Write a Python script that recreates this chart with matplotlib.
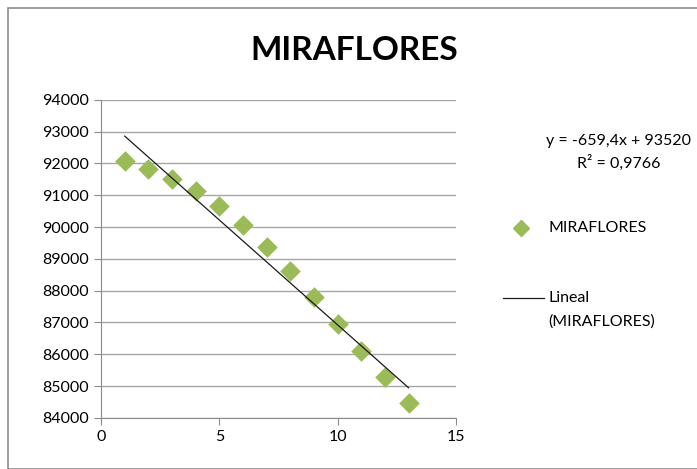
import numpy as np
import matplotlib.pyplot as plt
from matplotlib.patches import Rectangle
from matplotlib.lines import Line2D

# ==============================================================================
# Data
# ==============================================================================
x_vals = [1, 2, 3, 4, 5, 6, 7, 8, 9, 10, 11, 12, 13]
y_vals = [92080, 91830, 91510, 91150, 90660, 90070, 89380,
          88610, 87790, 86950, 86095, 85285, 84470]

# Linear trend (Excel "Lineal") coefficients
SLOPE = -659.4
INTERCEPT = 93520
R2 = 0.9766

TITLE = 'MIRAFLORES'
GREEN = '#9BBB59'
GRID = '#A6A6A6'

plt.rcParams['font.family'] = ['Lato', 'DejaVu Sans']

fig = plt.figure(figsize=(6.97, 4.69), dpi=100)
ax = fig.add_axes([0.145, 0.109, 0.509, 0.678])

# chart frame
fig.patches.append(Rectangle((8 / 697, 0), 1, 461 / 469, transform=fig.transFigure,
                             fill=False, edgecolor='#8C8C8C', linewidth=1.2))

ax.scatter(x_vals, y_vals, marker='D', s=110, color=GREEN, zorder=3, linewidths=0)

trend_x = np.array([x_vals[0], x_vals[-1]])
ax.plot(trend_x, SLOPE * trend_x + INTERCEPT, color='#1a1a1a', linewidth=0.9, zorder=4)

ax.set_xlim(0, 15)
ax.set_ylim(84000, 94000)
ax.set_xticks([0, 5, 10, 15])
ax.set_yticks(np.arange(84000, 94001, 1000))
ax.yaxis.grid(True, color=GRID, linewidth=1.0)
ax.set_axisbelow(True)
for side in ['top', 'right']:
    ax.spines[side].set_visible(False)
for side in ['left', 'bottom']:
    ax.spines[side].set_color('#8C8C8C')
ax.tick_params(axis='both', colors='#8C8C8C', labelcolor='black', labelsize=11.5,
               length=5, direction='out')

fig.text(0.508, 0.893, TITLE, ha='center', va='center', fontsize=24, fontweight='bold')

eq = 'y = {}x + {}'.format(str(SLOPE).replace('.', ','), INTERCEPT)
fig.text(0.888, 0.700, eq, ha='center', va='center', fontsize=11.5)
fig.text(0.888, 0.652, 'R² = {}'.format(str(R2).replace('.', ',')),
         ha='center', va='center', fontsize=11.5)

# legend entries
fig.add_artist(Line2D([521 / 697], [1 - 228 / 469], marker='D', markersize=8,
                      color=GREEN, linestyle='none', transform=fig.transFigure))
fig.text(548 / 697, 1 - 228 / 469, TITLE, ha='left', va='center', fontsize=11.5)
fig.add_artist(Line2D([503 / 697, 544 / 697], [1 - 298 / 469, 1 - 298 / 469],
                      color='#1a1a1a', linewidth=0.9, transform=fig.transFigure))
fig.text(548 / 697, 1 - 298 / 469, 'Lineal', ha='left', va='center', fontsize=11.5)
fig.text(548 / 697, 1 - 322 / 469, '(MIRAFLORES)', ha='left', va='center', fontsize=11.5)

fig.savefig('out.png', dpi=100)
